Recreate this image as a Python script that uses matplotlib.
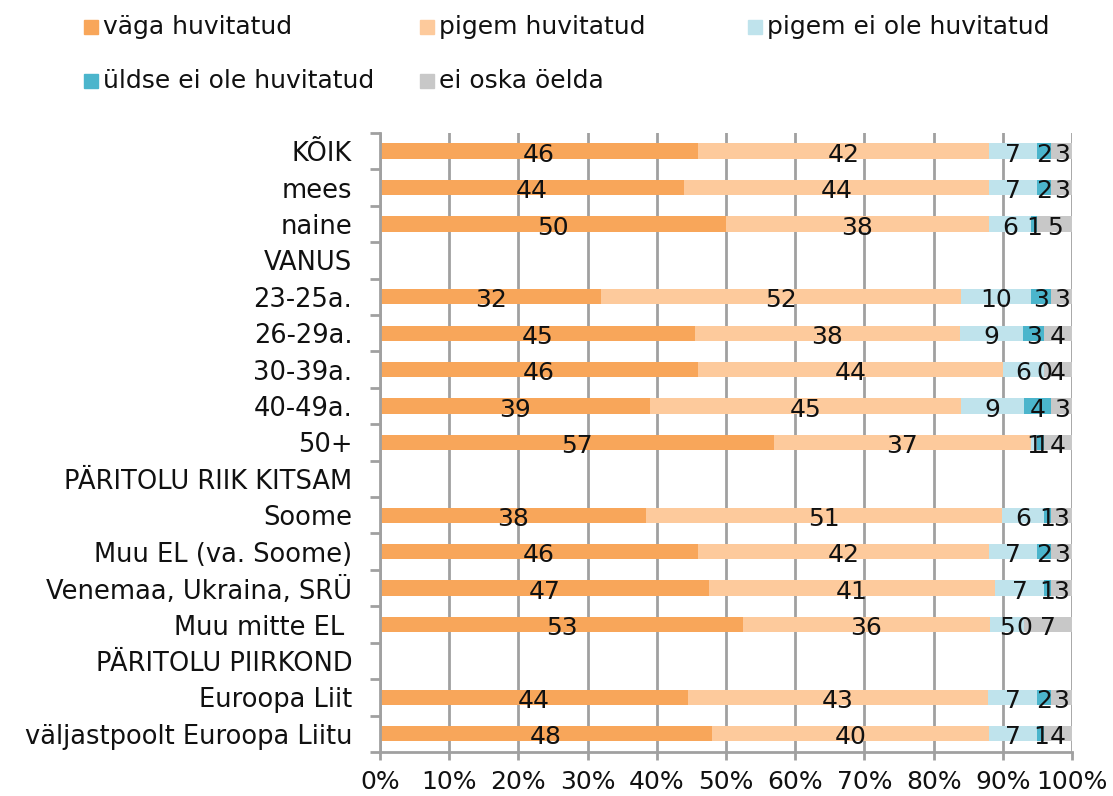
import matplotlib
matplotlib.use("Agg")
import matplotlib.pyplot as plt
import numpy as np

categories = ["KÕIK", "mees", "naine", "VANUS", "23-25a.", "26-29a.", "30-39a.",
              "40-49a.", "50+", "PÄRITOLU RIIK KITSAM", "Soome", "Muu EL (va. Soome)",
              "Venemaa, Ukraina, SRÜ", "Muu mitte EL ", "PÄRITOLU PIIRKOND",
              "Euroopa Liit", "väljastpoolt Euroopa Liitu"]
series = ["väga huvitatud", "pigem huvitatud", "pigem ei ole huvitatud",
          "üldse ei ole huvitatud", "ei oska öelda"]
# None = header row without bar
vaga = [46, 44, 50, None, 32, 45, 46, 39, 57, None, 38, 46, 47, 53, None, 44, 48]
pigem = [42, 44, 38, None, 52, 38, 44, 45, 37, None, 51, 42, 41, 36, None, 43, 40]
pigem_ei = [7, 7, 6, None, 10, 9, 6, 9, 1, None, 6, 7, 7, 5, None, 7, 7]
uldse_ei = [2, 2, 1, None, 3, 3, 0, 4, 1, None, 1, 2, 1, 0, None, 2, 1]
ei_oska = [3, 3, 5, None, 3, 4, 4, 3, 4, None, 3, 3, 3, 7, None, 3, 4]
colors = ["#F8A65A", "#FDCA9C", "#BFE3EC", "#4BB5CC", "#C8C8C8"]

plt.rcParams['font.family'] = ['DejaVu Sans']
fig = plt.figure(figsize=(11.13, 7.96), dpi=100)
ax = fig.add_axes([0.3414, 0.0553, 0.6218, 0.7777])

data = [vaga, pigem, pigem_ei, uldse_ei, ei_oska]
ypos = np.arange(len(categories))
for i, row in enumerate(ypos):
    if vaga[i] is None:
        continue
    vals = np.array([s[i] for s in data], dtype=float)
    shares = vals / vals.sum() * 100
    left = 0
    for j, (v, w) in enumerate(zip(vals, shares)):
        ax.barh(row, w, left=left, height=0.42, color=colors[j], zorder=2)
        ax.text(left + w / 2, row + 0.1, "%d" % v, ha="center", va="center",
                fontsize=18, color="#111111", zorder=3)
        left += w

ax.set_xlim(0, 100)
ax.set_ylim(len(categories) - 0.5, -0.5)
ax.set_yticks(ypos)
ax.set_yticklabels(categories, fontsize=18.5, color="#111111")
ax.set_yticks(np.arange(len(categories) + 1) - 0.5, minor=True)
ax.tick_params(axis="y", which="major", length=0, pad=20)
ax.tick_params(axis="y", which="minor", length=7, width=2, color="#A0A0A0")
ax.set_xticks(np.arange(0, 101, 10))
ax.set_xticklabels(["%d%%" % t for t in range(0, 101, 10)], fontsize=18, color="#111111")
ax.tick_params(axis="x", length=6, width=2, color="#A0A0A0", pad=7)
ax.grid(axis="x", color="#A0A0A0", linewidth=2, zorder=0)
for s in ["top", "right"]:
    ax.spines[s].set_visible(False)
for s in ["left", "bottom"]:
    ax.spines[s].set_color("#A0A0A0")
    ax.spines[s].set_linewidth(2)

# legend laid out in equal-width columns, as in the original
leg_x = [84, 420, 748]
leg_y = [27, 81]
W, H = 1113.0, 796.0
for k, name in enumerate(series):
    x = leg_x[k % 3]
    y = leg_y[k // 3]
    fig.patches.append(plt.Rectangle((x / W, (H - y - 7) / H), 14 / W, 14 / H,
                                     color=colors[k], transform=fig.transFigure,
                                     figure=fig))
    fig.text((x + 19) / W, (H - y) / H, name, fontsize=18, color="#111111",
             ha="left", va="center")

fig.savefig("out.png", dpi=100)
